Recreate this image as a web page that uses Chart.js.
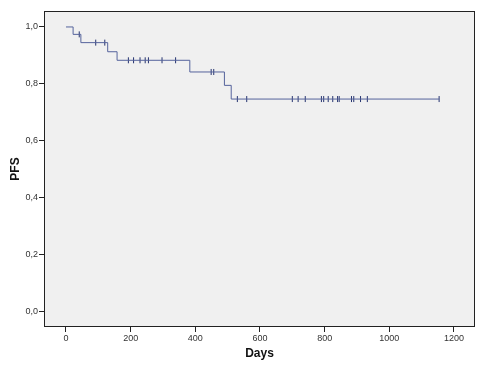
<!DOCTYPE html>
<html>
<head>
<meta charset="utf-8">
<script src="https://cdn.jsdelivr.net/npm/chart.js@4"></script>
<style>
  html, body { margin: 0; padding: 0; background: #fff; }
  #wrap { width: 500px; height: 365px; }
</style>
</head>
<body>
<div id="wrap"><canvas id="km"></canvas></div>
<script>
// ===== 数据：Kaplan-Meier 曲线（事件点） =====
const eventDays = [0, 22, 46, 129, 158, 383, 490, 511, 1154];
const eventPfs = [1.0, 0.974, 0.945, 0.913, 0.883, 0.842, 0.795, 0.747, 0.747];

// 删失点（+）
const censorDays = [41, 92, 120, 193, 209, 229, 245, 255, 297, 339, 449, 457,
    530, 559, 700, 718, 740, 790, 797, 811, 825, 840, 845, 883, 890, 911, 932, 1154];
const censorPfs = [0.974, 0.945, 0.945, 0.883, 0.883, 0.883, 0.883, 0.883, 0.883, 0.883, 0.842, 0.842,
    0.747, 0.747, 0.747, 0.747, 0.747, 0.747, 0.747, 0.747, 0.747, 0.747, 0.747, 0.747, 0.747, 0.747, 0.747, 0.747];

const xTicks = [0, 200, 400, 600, 800, 1000, 1200];
const yTicks = [0.0, 0.2, 0.4, 0.6, 0.8, 1.0];

const FONT = 'Liberation Sans, Arial, sans-serif';

// 绘图区背景和边框
const frame = {
    id: 'frame',
    beforeDatasetsDraw(chart) {
        const a = chart.chartArea, ctx = chart.ctx;
        ctx.save();
        ctx.fillStyle = '#f0f0f0';
        ctx.fillRect(a.left, a.top, a.right - a.left, a.bottom - a.top);
        ctx.restore();
    },
    afterDraw(chart) {
        const a = chart.chartArea, ctx = chart.ctx;
        ctx.save();
        ctx.strokeStyle = '#222';
        ctx.lineWidth = 1;
        ctx.strokeRect(a.left + 0.5, a.top + 0.5, a.right - a.left - 1, a.bottom - a.top - 1);
        ctx.restore();
    }
};

new Chart(document.getElementById('km'), {
    type: 'line',
    data: {
        datasets: [
            {
                label: 'PFS',
                data: eventDays.map((d, i) => ({ x: d, y: eventPfs[i] })),
                stepped: true,
                borderColor: '#55639c',
                borderWidth: 1,
                pointRadius: 0,
                fill: false
            },
            {
                label: 'Censored',
                type: 'scatter',
                data: censorDays.map((d, i) => ({ x: d, y: censorPfs[i] })),
                pointStyle: 'line',
                rotation: 90,
                pointRadius: 3,
                borderColor: '#25336f',
                borderWidth: 1
            }
        ]
    },
    options: {
        responsive: true,
        maintainAspectRatio: false,
        animation: false,
        layout: { padding: { top: 11, right: 25, left: 0, bottom: 0 } },
        plugins: { legend: { display: false }, tooltip: { enabled: false } },
        scales: {
            x: {
                type: 'linear',
                min: -68,
                max: 1265,
                afterFit(s) { s.height = 38; },
                afterBuildTicks(s) { s.ticks = xTicks.map(v => ({ value: v })); },
                grid: { drawOnChartArea: false, tickLength: 5, color: '#222' },
                border: { display: false },
                ticks: { color: '#333', font: { family: FONT, size: 9 }, padding: 1,
                    callback: v => String(v) },
                title: { display: true, text: 'Days', color: '#111',
                    font: { family: FONT, size: 12, weight: 'bold' }, padding: { top: 5 } }
            },
            y: {
                min: -0.053,
                max: 1.056,
                afterFit(s) { s.width = 44; },
                afterBuildTicks(s) { s.ticks = yTicks.map(v => ({ value: v })); },
                grid: { drawOnChartArea: false, tickLength: 5, color: '#222' },
                border: { display: false },
                ticks: { color: '#333', font: { family: FONT, size: 9 }, padding: 1,
                    callback: v => v.toFixed(1).replace('.', ',') },
                title: { display: true, text: 'PFS', color: '#111',
                    font: { family: FONT, size: 12, weight: 'bold' }, padding: { top: 8, bottom: 2 } }
            }
        }
    },
    plugins: [frame]
});
</script>
</body>
</html>
